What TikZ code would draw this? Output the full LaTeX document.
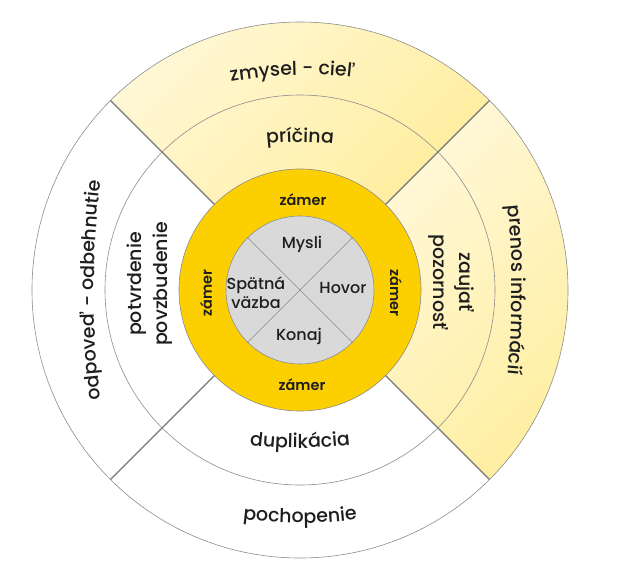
\documentclass[tikz,border=0pt]{standalone}
\usepackage{fontspec}
\setmainfont{Poppins}[UprightFont={* Medium}, BoldFont={* SemiBold}]
\usetikzlibrary{decorations.text}
\definecolor{ringY}{HTML}{FCD000}
\definecolor{lightA}{HTML}{FFF8D8}
\definecolor{lightB}{HTML}{FFEEA0}
\definecolor{coreG}{HTML}{D9D9D9}
\definecolor{edgeG}{HTML}{8C8C8C}
\definecolor{txt}{HTML}{1E1E1E}
\tikzset{
  thinedge/.style={draw=edgeG, line width=0.6pt},
  divider/.style={draw=edgeG!85!black, line width=1.1pt},
  lightsector/.style={top color=lightA, bottom color=lightB, shading angle=45},
  biglbl/.style={text=txt, font=\fontsize{19}{26}\selectfont, align=center, inner sep=0pt},
  midlbl/.style={text=txt, font=\fontsize{16}{19}\selectfont, align=center, inner sep=0pt},
  zlbl/.style={text=txt, font=\fontsize{14.5}{16}\selectfont\bfseries, inner sep=0pt},
}
% #1 text, #2 mid angle, #3 baseline radius, #4 curve radius, #5 start offset, #6 end offset
\newcommand{\curvelabel}[6]{%
  \pgfmathsetmacro{\ctroff}{#3-#4}%
  \pgfmathsetmacro{\sa}{#2+#5}%
  \pgfmathsetmacro{\ea}{#2+#6}%
  \path[shift={(#2:\ctroff pt)}, decorate, decoration={text along path, text align=center,
    text={|\fontsize{19}{21}\selectfont\color{txt}|#1}}]
    (\sa:#4 pt) arc[start angle=\sa, end angle=\ea, radius=#4 pt];}
\begin{document}
\begin{tikzpicture}[x=1pt,y=1pt]
\useasboundingbox (-300,-281) rectangle (317,290);
% light sectors
\shade[lightsector] (45:121pt) arc[start angle=45,end angle=135,radius=121pt]
  -- (135:268pt) arc[start angle=135,end angle=45,radius=268pt] -- cycle;
\shade[lightsector] (-45:121pt) arc[start angle=-45,end angle=45,radius=121pt]
  -- (45:268pt) arc[start angle=45,end angle=-45,radius=268pt] -- cycle;
% circles
\draw[thinedge] (0,0) circle[radius=268pt];
\draw[thinedge] (0,0) circle[radius=195pt];
% dividers
\foreach \a in {45,135,225,315}{
  \draw[divider] (\a:121pt) -- (\a:268pt);
}
% yellow ring and core
\draw[thinedge, fill=ringY] (0,0) circle[radius=121pt];
\draw[thinedge, fill=coreG] (0,0) circle[radius=74pt];
\draw[thinedge, line width=0.5pt] (45:74pt) -- (225:74pt);
\draw[thinedge, line width=0.5pt] (135:74pt) -- (315:74pt);
% core labels
\node[midlbl] (mysli) at (2,46) {Mysli};
\node[midlbl] (hovor) at (43,2) {Hovor};
\node[midlbl] (konaj) at (-1,-46) {Konaj};
\node[midlbl] (spatna) at (-44,-3) {Spätná\\väzba};
% zamer labels
\node[zlbl] (z1) at (3,90) {zámer};
\node[zlbl] (z2) at (2,-95) {zámer};
\node[zlbl, rotate=90] (z3) at (-94,-3) {zámer};
\node[zlbl, rotate=-90] (z4) at (96,-3) {zámer};
% two-line labels
\node[biglbl, rotate=90] (pp) at (-150,6) {potvrdenie\\povzbudenie};
\node[biglbl, rotate=-90] (zp) at (151,8) {zaujať\\pozornosť};
% curved labels
\curvelabel{zmysel - cieľ}{92}{215}{420}{30}{-30}
\curvelabel{príčina}{90}{148}{300}{30}{-30}
\curvelabel{duplikácia}{270}{158}{420}{-30}{30}
\curvelabel{pochopenie}{270}{233}{450}{-30}{30}
\curvelabel{odpoveď - odbehnutie}{180}{206}{900}{20}{-20}
\curvelabel{prenos informácií}{0}{212}{880}{20}{-20}
\end{tikzpicture}
\end{document}
